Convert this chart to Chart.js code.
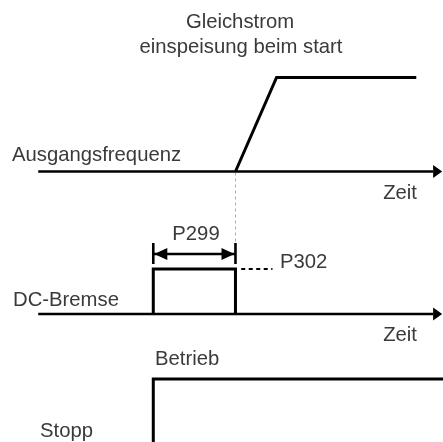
<!DOCTYPE html>
<html>
<head>
<meta charset="utf-8">
<script src="https://cdn.jsdelivr.net/npm/chart.js@4/dist/chart.umd.min.js"></script>
<style>
  html, body { margin: 0; padding: 0; background: #fff; }
  .wrap { width: 443px; height: 442px; position: relative; }
</style>
</head>
<body>
<div class="wrap"><canvas id="timing"></canvas></div>
<script>
// time axis (drawing units) and event times
const timeMin = -3.73;
const timeMax = 7.05;
const axisStart = -2.8;

// Ausgangsfrequenz: ramp after the DC brake
const freqTime = [2, 3, 6.4];
const freqLevel = [0, 1, 1];

// DC-Bremse pulse, P299 = its duration
const brakeTime = [0, 0, 2, 2];
const brakeLevel = [0, 1, 1, 0];
const p299Span = [0, 2];

// Betrieb / Stopp command
const runTime = [axisStart, 0, 0, timeMax];
const runLevel = [0, 0, 1, 1];

// lanes: baseline and amplitude on the y scale
const lanes = {
  freq: { base: 171.5, amp: 94 },
  brake: { base: 314, amp: 45 },
  run: { base: 444, amp: 65 }
};

const FONT = '20.3px "Liberation Sans", Arial, sans-serif';
const INK = '#3a3a3a';

function trace(times, levels, lane) {
  return times.map((t, i) => ({ x: t, y: lane.base - lane.amp * levels[i] }));
}

function line(data, extra) {
  return Object.assign({
    data, pointRadius: 0, borderColor: '#000', borderWidth: 3,
    tension: 0, clip: false, borderCapStyle: 'butt', borderJoinStyle: 'miter', fill: false
  }, extra || {});
}

const arrowTip = timeMax - 0.02;
const arrowBase = timeMax - 0.24;

const datasets = [
  // time axes
  line([{ x: axisStart, y: lanes.freq.base }, { x: arrowBase, y: lanes.freq.base }], { borderWidth: 2.6 }),
  line([{ x: axisStart, y: lanes.brake.base }, { x: arrowBase, y: lanes.brake.base }], { borderWidth: 2.6 }),
  // signals
  line(trace(freqTime, freqLevel, lanes.freq)),
  line(trace(brakeTime, brakeLevel, lanes.brake)),
  line(trace(runTime, runLevel, lanes.run)),
  // grey guide from ramp start down to brake end
  line([{ x: freqTime[0], y: lanes.freq.base + 1 }, { x: freqTime[0], y: 243 }], { borderColor: '#aaa', borderWidth: 1, borderDash: [3, 3] }),
  // P302 level marker
  line([{ x: brakeTime[2] + 0.14, y: lanes.brake.base - lanes.brake.amp }, { x: brakeTime[2] + 0.9, y: lanes.brake.base - lanes.brake.amp }], { borderWidth: 2, borderDash: [4, 3.5] }),
  // P299 dimension line + end bars
  line([{ x: p299Span[0], y: 254 }, { x: p299Span[1], y: 254 }], { borderWidth: 2.5 }),
  line([{ x: p299Span[0], y: 243 }, { x: p299Span[0], y: 264 }], { borderWidth: 2.6 }),
  line([{ x: p299Span[1], y: 243 }, { x: p299Span[1], y: 264 }], { borderWidth: 2.6 })
];

const annotate = {
  id: 'annotate',
  afterDatasetsDraw(chart) {
    const { ctx, scales: { x, y } } = chart;
    ctx.save();
    ctx.fillStyle = '#000';
    // arrow heads on the time axes
    [lanes.freq.base, lanes.brake.base].forEach(b => {
      const py = y.getPixelForValue(b);
      ctx.beginPath();
      ctx.moveTo(x.getPixelForValue(arrowTip), py);
      ctx.lineTo(x.getPixelForValue(arrowBase), py - 6.5);
      ctx.lineTo(x.getPixelForValue(arrowBase), py + 6.5);
      ctx.closePath();
      ctx.fill();
    });
    // P299 arrow heads
    const ay = y.getPixelForValue(254);
    const l = x.getPixelForValue(p299Span[0]) + 1, r = x.getPixelForValue(p299Span[1]) - 1;
    ctx.beginPath();
    ctx.moveTo(l, ay); ctx.lineTo(l + 13, ay - 6); ctx.lineTo(l + 13, ay + 6); ctx.closePath(); ctx.fill();
    ctx.beginPath();
    ctx.moveTo(r, ay); ctx.lineTo(r - 13, ay - 6); ctx.lineTo(r - 13, ay + 6); ctx.closePath(); ctx.fill();

    // labels
    ctx.font = FONT;
    ctx.fillStyle = INK;
    ctx.textBaseline = 'alphabetic';
    const txt = (s, px, py, align) => { ctx.textAlign = align || 'left'; ctx.fillText(s, px, py); };
    txt('Gleichstrom', 240, 28, 'center');
    txt('einspeisung beim start', 241, 53, 'center');
    txt('Ausgangsfrequenz', 12, 161);
    txt('Zeit', 417, 199, 'right');
    txt('P299', 196, 240, 'center');
    txt('P302', 280, 268);
    txt('DC-Bremse', 13, 306);
    txt('Zeit', 417, 341, 'right');
    txt('Betrieb', 155, 365);
    txt('Stopp', 40, 437);
    ctx.restore();
  }
};

new Chart(document.getElementById('timing'), {
  type: 'line',
  data: { datasets },
  options: {
    responsive: true,
    maintainAspectRatio: false,
    animation: false,
    layout: { padding: 0 },
    plugins: { legend: { display: false }, tooltip: { enabled: false } },
    scales: {
      x: { type: 'linear', min: timeMin, max: timeMax, display: false },
      y: { type: 'linear', min: 0, max: 442, reverse: true, display: false }
    }
  },
  plugins: [annotate]
});
</script>
</body>
</html>
